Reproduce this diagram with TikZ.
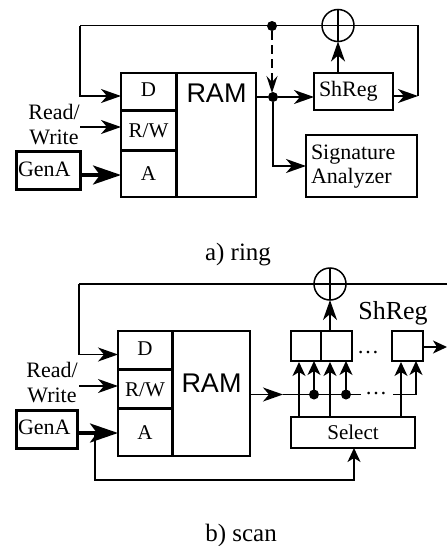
\documentclass[tikz,border=0pt]{standalone}
\usepackage{fontspec}
\setmainfont{Liberation Serif}
\setsansfont{Liberation Sans}
\usetikzlibrary{arrows.meta}

\tikzset{
  wire/.style={line width=1.5pt},
  arrowwire/.style={wire,-{Stealth[length=20pt,width=14pt,inset=6pt]}},
  shortarrow/.style={wire,-{Stealth[length=14pt,width=13pt,inset=4pt]}},
  widearrow/.style={line width=3.6pt,-{Stealth[length=28pt,width=19pt,inset=7pt]}},
  regbox/.style={draw,line width=1.5pt,inner sep=0pt,outer sep=0pt,font=\fontsize{21}{24}\selectfont},
  genbox/.style={regbox,line width=3pt,align=left,font=\fontsize{22}{24}\selectfont},
  xorgate/.style={draw,circle,line width=1.5pt,minimum size=32pt,inner sep=0pt,outer sep=0pt},
  junction/.style={fill,circle,minimum size=10pt,inner sep=0pt,outer sep=0pt},
  plainlabel/.style={inner sep=0pt,font=\fontsize{22}{24}\selectfont},
  caption/.style={inner sep=0pt,font=\fontsize{25}{28}\selectfont},
  ramlabel/.style={inner sep=0pt,font=\sffamily\fontsize{27}{30}\selectfont}
}

\begin{document}
\begin{tikzpicture}[x=1pt,y=-1pt]
    \useasboundingbox (0,0) rectangle (447,546);

    % a) ring
    \node [regbox,minimum width=55pt,minimum height=36.5pt] (ringD) at (148.5,91.25) {\raisebox{3pt}{D}};
    \node [regbox,minimum width=55pt,minimum height=38.5pt] (ringRW) at (148.5,130.25) {R/W};
    \node [regbox,minimum width=55pt,minimum height=46pt] (ringA) at (148.5,174) {\raisebox{-4pt}{A}};
    \node [regbox,minimum width=78.5pt,minimum height=124pt] (ringRAM) at (216.75,135) {};
    \node [ramlabel] (ringRAMtext) at (216.5,93) {RAM};
    \node [regbox,minimum width=79pt,minimum height=37pt,text width=69pt,align=left,font=\fontsize{22}{24}\selectfont] (ringShReg) at (353.5,91.5) {ShReg};
    \node [regbox,minimum width=111pt,minimum height=62pt] (ringSig) at (361.5,166) {};
    \node [plainlabel,text width=101pt,align=left] (ringSigtext) at (361.5,166.5) {Signature\\Analyzer};
    \node [genbox,minimum width=64pt,minimum height=38pt,text width=60pt] (ringGenA) at (48,170) {\raisebox{2pt}{GenA}};
    \node [xorgate] (ringXor) at (338,25.5) {};
    \node [plainlabel,align=center] (ringRead) at (54,124.5) {Read/\\[1pt]Write};
    \node [junction] (ringTop) at (272,26) {};
    \node [junction] (ringOut) at (273,97) {};
    \node [caption] (ringCap) at (238,255) {a) ring};
    \coordinate (ringTL) at (80,25.5);
    \coordinate (ringTR) at (418,25.5);
    \coordinate (ringOutR) at (418,96);
    \coordinate (ringDash) at (272,93);
    \coordinate (ringRWin) at (80,127);

    \draw [wire] (ringOutR) -- (ringTR) -- (ringTL);
    \draw [arrowwire] (ringTL) |- (ringD.west |- 0,96);
    \draw [wire] (ringXor.north) -- (ringXor.south);
    \draw [line width=2pt,dash pattern=on 9pt off 5pt,-{Stealth[length=17pt,width=11pt,inset=6pt]}] (ringTop) -- (ringDash);
    \draw [wire] (ringRAM.east |- ringOut) -- (ringOut);
    \draw [arrowwire] (ringOut) -- (ringShReg.west |- ringOut);
    \draw [arrowwire] (ringShReg.east |- ringOutR) -- (ringOutR);
    \draw [arrowwire] (ringShReg.north -| ringXor) -- (ringXor.south);
    \draw [arrowwire] (ringOut) |- (ringSig.west);
    \draw [arrowwire] (ringRWin) -- (ringRW.west |- ringRWin);
    \draw [widearrow] (ringGenA.east |- 0,175) -- (ringA.west |- 0,175);

    % b) scan
    \node [regbox,minimum width=54pt,minimum height=38pt] (scanD) at (145,350) {\raisebox{2pt}{D}};
    \node [regbox,minimum width=54pt,minimum height=37.5pt] (scanRW) at (145,389.25) {R/W};
    \node [regbox,minimum width=54pt,minimum height=46.5pt] (scanA) at (145,432.75) {\raisebox{-2pt}{A}};
    \node [regbox,minimum width=76.5pt,minimum height=125pt] (scanRAM) at (211.75,393.5) {};
    \node [ramlabel] (scanRAMtext) at (211.5,383) {RAM};
    \node [regbox,minimum width=29.5pt,minimum height=30pt] (scanRegA) at (305.75,346) {};
    \node [regbox,minimum width=30.5pt,minimum height=30pt] (scanRegB) at (336.75,346) {};
    \node [regbox,minimum width=31pt,minimum height=30pt] (scanRegC) at (407.5,346) {};
    \node [regbox,minimum width=124pt,minimum height=31pt] (scanSelect) at (353,432.5) {\raisebox{-2pt}{Select}};
    \node [genbox,minimum width=61pt,minimum height=38pt,text width=57pt] (scanGenA) at (46.5,429) {\raisebox{3pt}{GenA}};
    \node [xorgate] (scanXor) at (330,284) {};
    \node [plainlabel,align=center] (scanRead) at (52,383) {Read/\\[1pt]Write};
    \node [plainlabel,font=\fontsize{26}{28}\selectfont] (scanName) at (393,313) {ShReg};
    \node [plainlabel] (scanDotsA) at (368,353) {\dots};
    \node [plainlabel] (scanDotsB) at (376,394) {\dots};
    \node [junction] (scanJa) at (314,394.5) {};
    \node [junction] (scanJb) at (346,394.5) {};
    \node [caption] (scanCap) at (241,535) {b) scan};
    \coordinate (scanTL) at (79,284);
    \coordinate (scanTR) at (447,284);
    \coordinate (scanOutR) at (447,347);
    \coordinate (scanBusA) at (283,394.5);
    \coordinate (scanBusB) at (361,394.5);
    \coordinate (scanBusC) at (393,394.5);
    \coordinate (scanBusD) at (416,394.5);
    \coordinate (scanRWin) at (79,386);
    \coordinate (scanSel) at (95,433);
    \coordinate (scanLow) at (354,480);

    \draw [wire,line width=1.8pt] (scanTR) -- (scanTL);
    \draw [arrowwire] (scanTL) |- (scanD.west |- 0,354.5);
    \draw [wire] (scanXor.north) -- (scanXor.south);
    \draw [arrowwire] (scanRegB.north -| scanXor) -- (scanXor.south);
    \draw [shortarrow] (scanRegC.east |- scanOutR) -- (scanOutR);
    \draw [arrowwire] (scanRAM.east |- scanBusA) -- (scanBusA);
    \draw [wire] (scanBusA) -- (scanBusB);
    \draw [wire] (scanBusC) -- (scanBusD);
    \foreach \x in {299,330,401}
      \draw [shortarrow] (\x,417) -- (\x,362);
    \draw [shortarrow] (scanJa) -- (scanJa |- scanRegA.south);
    \draw [shortarrow] (scanJb) -- (scanJb |- scanRegB.south);
    \draw [shortarrow] (scanBusD) -- (scanBusD |- scanRegC.south);
    \draw [arrowwire] (scanRWin) -- (scanRW.west |- scanRWin);
    \draw [widearrow] (scanGenA.east |- 0,433) -- (scanA.west |- 0,433);
    \draw [shortarrow] (scanSel) |- (scanLow) -- (scanSelect.south -| scanLow);
\end{tikzpicture}
\end{document}
